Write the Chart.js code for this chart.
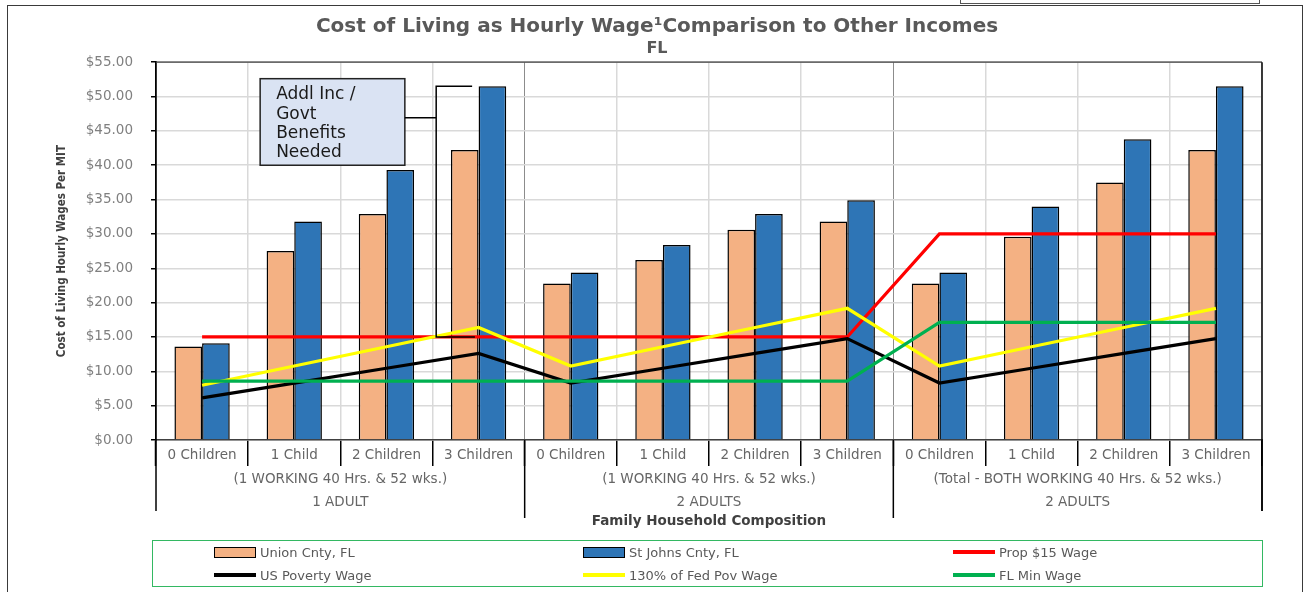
<!DOCTYPE html>
<html>
<head>
<meta charset="utf-8">
<title>Cost of Living as Hourly Wage - FL</title>
<script src="https://cdn.jsdelivr.net/npm/chart.js@4.4.1/dist/chart.umd.min.js"></script>
<style>
  body { margin: 0; background: #fff; }
  #wrap { position: relative; width: 1306px; height: 592px; overflow: hidden; font-family: 'DejaVu Sans', sans-serif; }
  #chart { position: absolute; left: 0; top: 0; }
  #frame { position: absolute; left: 7px; top: 5px; width: 1296px; height: 600px; border: 1.5px solid #3a3a3a; box-sizing: border-box; pointer-events: none; }
  #tab { position: absolute; left: 960px; top: -4px; width: 300px; height: 8px; border: 1px solid #555; box-sizing: border-box; }
  #legend { position: absolute; left: 152px; top: 540px; width: 1111px; height: 47px; border: 1.5px solid #33b862; box-sizing: border-box; }
  .item { position: absolute; height: 16px; display: flex; align-items: center; font-size: 13px; color: #595959; white-space: nowrap; }
  .sw { width: 42px; margin-right: 4px; box-sizing: border-box; }
</style>
</head>
<body>
<div id="wrap">
  <canvas id="chart" width="1306" height="592"></canvas>
  <div id="tab"></div>
  <div id="frame"></div>
  <div id="legend"></div>
</div>
<script>
// categories and groups
var categories = ['0 Children', '1 Child', '2 Children', '3 Children',
                  '0 Children', '1 Child', '2 Children', '3 Children',
                  '0 Children', '1 Child', '2 Children', '3 Children'];
var groupWork   = ['(1 WORKING 40 Hrs. & 52 wks.)', '(1 WORKING 40 Hrs. & 52 wks.)', '(Total - BOTH WORKING 40 Hrs. & 52 wks.)'];
var groupAdults = ['1 ADULT', '2 ADULTS', '2 ADULTS'];

// series (hourly $)
var unionCnty   = [13.6, 27.5, 32.9, 42.2, 22.8, 26.2, 30.6, 31.8, 22.8, 29.6, 37.5, 42.2];
var stJohnsCnty = [14.1, 31.8, 39.3, 51.5, 24.4, 28.4, 32.9, 34.9, 24.4, 34.0, 43.8, 51.5];
var propWage    = [15, 15, 15, 15, 15, 15, 15, 15, 30, 30, 30, 30];
var usPoverty   = [6.13, 8.29, 10.44, 12.60, 8.29, 10.44, 12.60, 14.75, 8.29, 10.44, 12.60, 14.75];
var fedPov130   = [7.97, 10.77, 13.58, 16.38, 10.77, 13.58, 16.38, 19.17, 10.77, 13.58, 16.38, 19.17];
var flMinWage   = [8.56, 8.56, 8.56, 8.56, 8.56, 8.56, 8.56, 8.56, 17.12, 17.12, 17.12, 17.12];

var seriesNames = ['Union Cnty, FL', 'St Johns Cnty, FL', 'Prop $15 Wage', 'US Poverty Wage', '130% of Fed Pov Wage', 'FL Min Wage'];

// y ticks
var yMin = 0, yMax = 55, yStep = 5;

var FONT = "'DejaVu Sans', sans-serif";

function lineSet(label, data, color, order) {
    return { type: 'line', label: label, data: data, borderColor: color, backgroundColor: color,
             borderWidth: 3.2, pointRadius: 0, tension: 0, fill: false, order: order };
}

/**
 * group labels under the axis, separators, plot frame and the callout
 */
var extras = {
    id: 'extras',
    afterDraw: function(chart) {
        var ctx = chart.ctx, a = chart.chartArea, x = chart.scales.x, y = chart.scales.y;
        var step = x.getPixelForValue(1) - x.getPixelForValue(0);
        var edge = function(i) { return x.getPixelForValue(i) - step / 2; };
        var cx = function(v) { return x.getPixelForValue(0) + v * step; };

        ctx.save();
        // top + right of plot
        ctx.strokeStyle = '#404040';
        ctx.lineWidth = 1.2;
        ctx.beginPath(); ctx.moveTo(a.left, a.top); ctx.lineTo(a.right, a.top); ctx.stroke();

        ctx.strokeStyle = '#000';
        ctx.lineWidth = 1.5;
        ctx.beginPath(); ctx.moveTo(a.right, a.top); ctx.lineTo(a.right, a.bottom + 71); ctx.stroke();

        //group separators under the axis
        for (var g = 0; g <= groupAdults.length; g++) {
            var px = edge(g * 4);
            var inner = g > 0 && g < groupAdults.length;
            ctx.beginPath();
            ctx.moveTo(px, a.bottom);
            ctx.lineTo(px, a.bottom + (inner ? 78 : 71));
            ctx.stroke();
        }

        ctx.fillStyle = '#666';
        ctx.font = '13.5px ' + FONT;
        ctx.textAlign = 'center';
        ctx.textBaseline = 'middle';
        for (var g = 0; g < groupAdults.length; g++) {
            var mid = (edge(g * 4) + edge(g * 4 + 4)) / 2;
            ctx.fillText(groupWork[g], mid, a.bottom + 39);
            ctx.fillText(groupAdults[g], mid, a.bottom + 62);
        }

        // callout box
        var bl = cx(0.63), br = cx(2.2), bt = y.getPixelForValue(52.6), bb = y.getPixelForValue(40.0);
        ctx.fillStyle = '#dae3f3';
        ctx.fillRect(bl, bt, br - bl, bb - bt);
        ctx.strokeStyle = '#222';
        ctx.lineWidth = 1.5;
        ctx.strokeRect(bl, bt, br - bl, bb - bt);

        ctx.fillStyle = '#1a1a1a';
        ctx.font = '17px ' + FONT;
        ctx.textAlign = 'left';
        var lines = ['Addl Inc /', 'Govt', 'Benefits', 'Needed'];
        for (var i = 0; i < lines.length; i++)
            ctx.fillText(lines[i], bl + 16, bt + 16 + i * 19.4);

        // bracket from $15 wage up to the highest cost
        var bx = cx(2.54);
        var topY = y.getPixelForValue(stJohnsCnty[3]);
        var botY = y.getPixelForValue(propWage[3]);
        var midY = y.getPixelForValue(46.9);
        ctx.strokeStyle = '#000';
        ctx.lineWidth = 1.5;
        ctx.beginPath();
        ctx.moveTo(br, midY); ctx.lineTo(bx, midY);
        ctx.moveTo(cx(2.93), topY); ctx.lineTo(bx, topY); ctx.lineTo(bx, botY); ctx.lineTo(cx(2.96), botY);
        ctx.stroke();
        ctx.restore();
    }
};

var ctx = document.getElementById('chart');

var myChart = new Chart(ctx, {
    type: 'bar',
    data: {
        labels: categories,
        datasets: [
            { type: 'bar', label: seriesNames[0], data: unionCnty, backgroundColor: '#f4b183', borderColor: '#000',
              borderWidth: 1.5, categoryPercentage: 0.6, barPercentage: 1.0, order: 5 },
            { type: 'bar', label: seriesNames[1], data: stJohnsCnty, backgroundColor: '#2e75b6', borderColor: '#000',
              borderWidth: 1.5, categoryPercentage: 0.6, barPercentage: 1.0, order: 5 },
            lineSet(seriesNames[2], propWage, '#ff0000', 4),
            lineSet(seriesNames[3], usPoverty, '#000000', 3),
            lineSet(seriesNames[4], fedPov130, '#ffff00', 2),
            lineSet(seriesNames[5], flMinWage, '#00b050', 1)
        ]
    },
    options: {
        responsive: false,
        animation: false,
        layout: { padding: { left: 52, right: 44, top: 0, bottom: 0 } },
        plugins: {
            legend: { display: false },
            tooltip: { enabled: false },
            title: {
                display: true,
                text: 'Cost of Living as Hourly Wage\u00B9Comparison to Other Incomes',
                color: '#595959',
                font: { family: FONT, size: 20, weight: 'bold' },
                padding: { top: 15, bottom: 0 }
            },
            subtitle: {
                display: true,
                text: 'FL',
                color: '#595959',
                font: { family: FONT, size: 16, weight: 'bold' },
                padding: { top: 0, bottom: 4 }
            }
        },
        scales: {
            x: {
                offset: true,
                grid: {
                    offset: true,
                    color: function(c) { return c.index % 4 === 0 ? '#8c8c8c' : '#d9d9d9'; },
                    lineWidth: function(c) { return c.index % 4 === 0 ? 1 : 1.5; },
                    tickLength: 26,
                    tickColor: '#000',
                    tickWidth: 1.5
                },
                border: { color: '#404040', width: 1.5 },
                ticks: { color: '#666', font: { family: FONT, size: 13.5 }, padding: -19.1, maxRotation: 0, autoSkip: false },
                title: {
                    display: true,
                    text: 'Family Household Composition',
                    color: '#404040',
                    font: { family: FONT, size: 13.5, weight: 'bold' },
                    padding: { top: 0, bottom: 62.9 }
                },
                afterFit: function(s) { s.height = 152; }
            },
            y: {
                min: yMin,
                max: yMax,
                ticks: {
                    stepSize: yStep,
                    color: '#808080',
                    font: { family: FONT, size: 13.5 },
                    padding: 18,
                    callback: function(v) { return '$' + v.toFixed(2); }
                },
                grid: { color: '#d9d9d9', lineWidth: 1.5, tickLength: 5, tickColor: '#000', tickWidth: 1.5 },
                border: { color: '#000', width: 1.8 },
                title: {
                    display: true,
                    text: 'Cost of Living Hourly Wages Per MIT',
                    color: '#404040',
                    font: { family: "'Liberation Sans Narrow', 'DejaVu Sans Condensed', sans-serif", size: 11.5, weight: 'bold' },
                    padding: { top: 3, bottom: 0 }
                },
                afterFit: function(s) { s.width = 104; }
            }
        }
    },
    plugins: [extras]
});

// legend box, 3 columns x 2 rows, built from the datasets
var legendNode = document.getElementById('legend');
var colLeft = [61, 430, 800];
var rowTop = [3, 26];
myChart.data.datasets.forEach(function(ds, i) {
    var item = document.createElement('div');
    item.className = 'item';
    item.style.left = colLeft[i % 3] + 'px';
    item.style.top = rowTop[Math.floor(i / 3)] + 'px';

    var sw = document.createElement('span');
    sw.className = 'sw';
    if (ds.type === 'bar') {
        sw.style.height = '11px';
        sw.style.background = ds.backgroundColor;
        sw.style.border = '1.5px solid #000';
    } else {
        sw.style.height = '3.5px';
        sw.style.background = ds.borderColor;
    }
    item.appendChild(sw);

    var txt = document.createElement('span');
    txt.textContent = ds.label;
    item.appendChild(txt);
    legendNode.appendChild(item);
});
</script>
</body>
</html>
